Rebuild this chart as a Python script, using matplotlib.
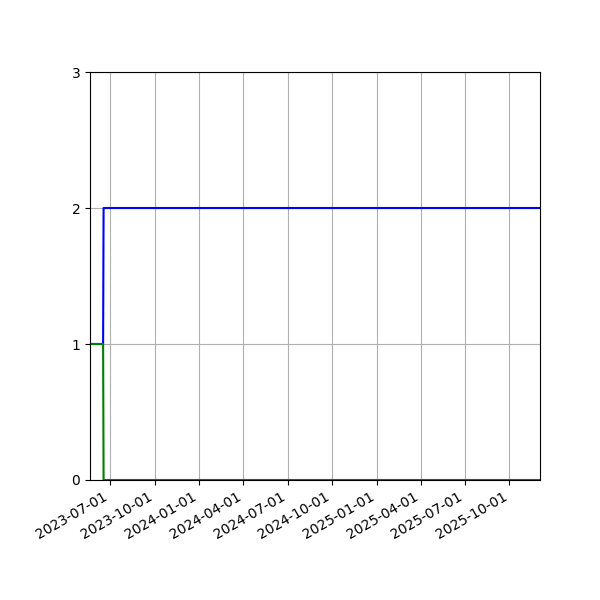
import pandas as pd
import matplotlib
matplotlib.use('Agg')
import matplotlib.pyplot as plt
import matplotlib.dates as mdates

# sample dates and the two series
dates = pd.to_datetime(['2023-05-21', '2023-06-17', '2023-06-18', '2025-12-03'])
blue_vals = [1, 1, 2, 2]
green_vals = [1, 1, 0, 0]

fig, ax = plt.subplots(figsize=(6, 6), dpi=100)
ax.plot(dates, blue_vals, color='blue')
ax.plot(dates, green_vals, color='green')

ax.set_xlim(dates[0], dates[-1])
ax.set_ylim(0, 3)
ax.set_yticks([0, 1, 2, 3])
ax.xaxis.set_major_locator(mdates.MonthLocator(bymonth=[1, 4, 7, 10]))
ax.xaxis.set_major_formatter(mdates.DateFormatter('%Y-%m-%d'))
ax.grid(True)
fig.autofmt_xdate()
fig.subplots_adjust(left=0.15, right=0.9, top=0.88, bottom=0.2)
fig.savefig('out.png')
